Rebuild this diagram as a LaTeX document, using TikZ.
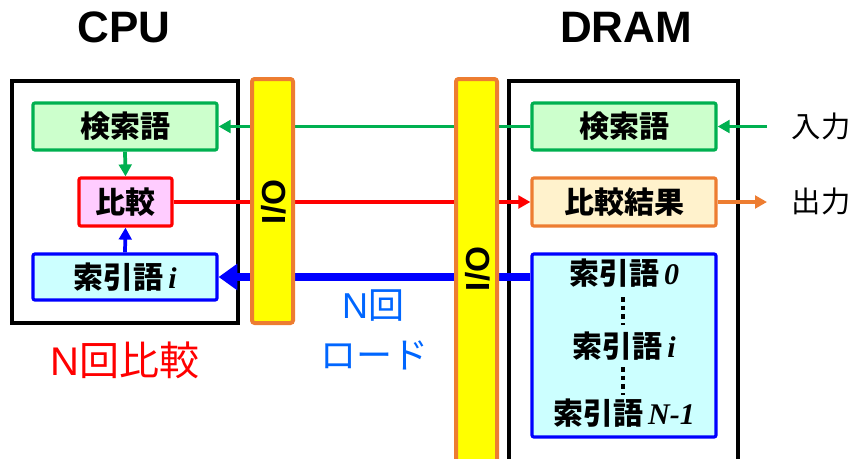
\documentclass[tikz,border=0pt]{standalone}
\usepackage{fontspec}
\setmainfont{Liberation Sans}
\newfontfamily\jp{Noto Sans CJK JP}
\newfontfamily\tms{Liberation Serif}
\usetikzlibrary{arrows.meta}
\definecolor{gline}{HTML}{00B050}
\definecolor{gfill}{HTML}{CCFFCC}
\definecolor{rline}{HTML}{FF0000}
\definecolor{pfill}{HTML}{FFCCFF}
\definecolor{bline}{HTML}{0000FF}
\definecolor{bfill}{HTML}{CCFFFF}
\definecolor{oline}{HTML}{ED7D31}
\definecolor{ofill}{HTML}{FFF2CC}
\definecolor{ybar}{HTML}{FFFF00}
\definecolor{btext}{HTML}{0066FF}
\newcommand{\ivar}[1]{{\tms\bfseries\itshape #1}}
\begin{document}
\begin{tikzpicture}[x=0.75pt,y=-0.75pt,
  frame/.style={draw=black, line width=2.4pt, inner sep=0pt},
  box/.style={line width=2.4pt, rounded corners=1.5pt, inner sep=0pt,
    font=\jp\bfseries\fontsize{22.5}{26}\selectfont},
  iobar/.style={draw=oline, fill=ybar, line width=3pt, rounded corners=2pt, inner sep=0pt},
  iotext/.style={rotate=90, font=\bfseries\fontsize{25}{28}\selectfont},
  title/.style={font=\bfseries\fontsize{33}{36}\selectfont},
  arr/.style={line width=2.8pt, -{Triangle[length=9pt,width=9.5pt]}},
  jplabel/.style={font=\jp\fontsize{22}{26}\selectfont},
]
\useasboundingbox (0,0) rectangle (852,458);

% titles
\node[title] (tcpu) at (124,27.5) {CPU};
\node[title] (tdram) at (626,27.5) {DRAM};

% outer frames
\node[frame, minimum width=226*0.75pt, minimum height=242*0.75pt] (cpu) at (125,202) {};
\node[frame, minimum width=229*0.75pt, minimum height=380*0.75pt] (dram) at (623.5,271) {};

% CPU boxes
\node[box, draw=gline, fill=gfill, minimum width=184*0.75pt, minimum height=47*0.75pt] (cgreen) at (125,126.5) {検索語};
\node[box, draw=rline, fill=pfill, minimum width=93*0.75pt, minimum height=48*0.75pt] (cmp) at (125.5,202) {比較};
\node[box, draw=bline, fill=bfill, minimum width=184*0.75pt, minimum height=46*0.75pt] (cblue) at (125,277) {索引語\,\ivar{i}};

% DRAM boxes
\node[box, draw=gline, fill=gfill, minimum width=184*0.75pt, minimum height=47*0.75pt] (dgreen) at (624,126.5) {検索語};
\node[box, draw=oline, fill=ofill, minimum width=184*0.75pt, minimum height=48*0.75pt] (res) at (624,202) {比較結果};
\node[box, draw=bline, fill=bfill, minimum width=184*0.75pt, minimum height=183*0.75pt] (dblue) at (624,345.5) {};
\node[box, draw=none, fill=none] (w0) at (624,273) {索引語\,\ivar{0}};
\node[box, draw=none, fill=none] (wi) at (624,346) {索引語\,\ivar{i}};
\node[box, draw=none, fill=none] (wn) at (624,413) {索引語\,\ivar{N-1}};
\draw[line width=3.5pt, dash pattern=on 3.5pt off 3pt] (623,297) -- (623,325);
\draw[line width=3.5pt, dash pattern=on 3.5pt off 3pt] (623,367) -- (623,395);

% connectors (behind the I/O bars)
\draw[arr, gline] (dgreen.west) -- (cgreen.east);
\draw[arr, rline] (cmp.east) -- (res.west);
\draw[bline, line width=5.5pt, -{Triangle[length=14pt,width=19pt]}] (cblue.east -| dblue.west) -- (cblue.east);
\draw[arr, gline] (cgreen.south) -- (cmp.north);
\draw[arr, bline] (cblue.north) -- (cmp.south);

% I/O bars
\node[iobar, minimum width=41*0.75pt, minimum height=244*0.75pt] (io1) at (272.5,201) {};
\node[iotext] (io1t) at (274,202) {I/O};
\node[iobar, minimum width=41*0.75pt, minimum height=385*0.75pt] (io2) at (476.5,271.5) {};
\node[iotext] (io2t) at (478,269) {I/O};

% input / output
\coordinate (inp) at (767,126.5);
\coordinate (outp) at (767,202);
\draw[arr, gline] (inp) -- (dgreen.east);
\draw[arr, oline] (res.east) -- (outp);
\node[jplabel, anchor=west] (tin) at (787,126) {入力};
\node[jplabel, anchor=west] (tout) at (787,201) {出力};

% notes
\node[text=rline, font=\fontsize{30}{34}\selectfont] (ncmp) at (125,360) {N{\jp 回比較}};
\node[text=btext, font=\fontsize{27}{31}\selectfont] (nload1) at (373,306) {N{\jp 回}};
\node[text=btext, font=\jp\fontsize{27}{31}\selectfont] (nload2) at (374,355) {ロード};
\end{tikzpicture}
\end{document}
